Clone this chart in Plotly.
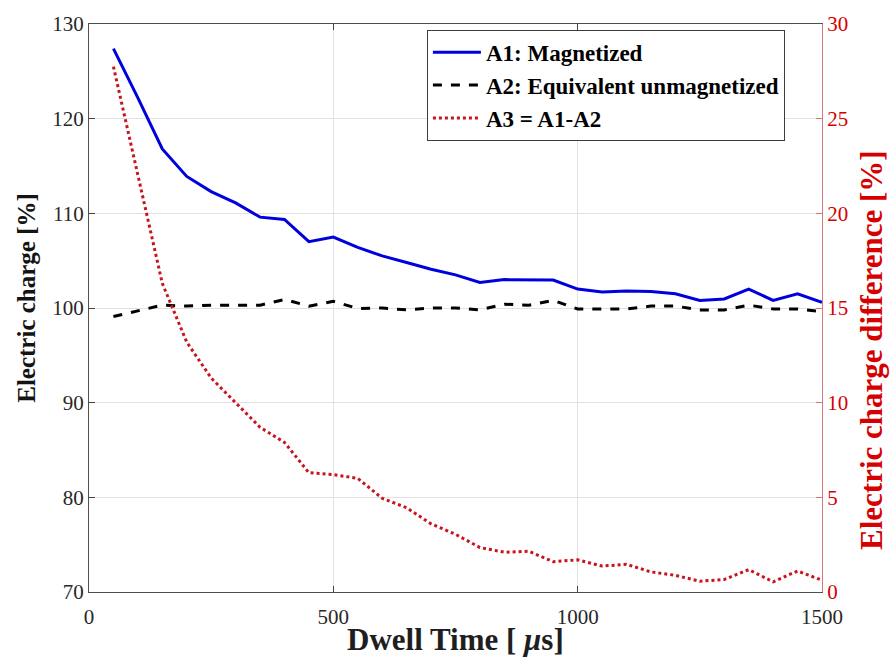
import plotly.graph_objects as go

dwell_time = [50, 100, 150, 200, 250, 300, 350, 400, 450, 500, 550, 600, 650, 700, 750,
              800, 850, 900, 950, 1000, 1050, 1100, 1150, 1200, 1250, 1300, 1350, 1400, 1450, 1500]
a1_magnetized = [127.4, 122.2, 116.8, 113.9, 112.3, 111.1, 109.6, 109.35, 107.0, 107.5, 106.4,
                 105.5, 104.8, 104.1, 103.5, 102.7, 103.0, 102.95, 102.95, 102.0, 101.7, 101.8,
                 101.75, 101.5, 100.8, 100.95, 102.0, 100.8, 101.5, 100.6]
a2_unmagnetized = [99.1, 99.7, 100.3, 100.2, 100.3, 100.3, 100.3, 100.9, 100.2, 100.7, 99.95,
                   100.0, 99.8, 100.0, 100.0, 99.8, 100.4, 100.3, 100.8, 99.9, 99.9, 99.9,
                   100.2, 100.2, 99.8, 99.8, 100.3, 99.9, 99.9, 99.6]
a3_difference = [27.75, 22.0, 16.3, 13.2, 11.3, 10.0, 8.7, 7.9, 6.3, 6.2, 6.0,
                 4.95, 4.45, 3.6, 3.05, 2.35, 2.1, 2.15, 1.6, 1.7, 1.37, 1.46,
                 1.06, 0.88, 0.57, 0.66, 1.18, 0.54, 1.11, 0.62]

x_ticks = [0, 500, 1000, 1500]
y_left_ticks = [70, 80, 90, 100, 110, 120, 130]
y_right_ticks = [0, 5, 10, 15, 20, 25, 30]

FONT = "Liberation Serif"
RED = "rgb(214,0,0)"
TICK_SIZE = 21

fig = go.Figure()
fig.add_trace(go.Scatter(x=dwell_time, y=a1_magnetized, mode="lines", name="A1: Magnetized",
                         line=dict(color="rgb(0,0,220)", width=3)))
fig.add_trace(go.Scatter(x=dwell_time, y=a2_unmagnetized, mode="lines",
                         name="A2: Equivalent unmagnetized",
                         line=dict(color="black", width=3, dash="dash")))
fig.add_trace(go.Scatter(x=dwell_time, y=a3_difference, mode="lines", name="A3 = A1-A2",
                         line=dict(color="rgb(200,20,30)", width=3, dash="dot"), yaxis="y2"))

fig.update_layout(
    width=892, height=666,
    margin=dict(l=89, r=70, t=15, b=74),
    paper_bgcolor="white", plot_bgcolor="white",
    font=dict(family=FONT, size=TICK_SIZE, color="rgb(40,40,40)"),
    xaxis=dict(range=[0, 1500], tickvals=x_ticks, ticks="inside", ticklen=6,
               showline=True, linecolor="rgb(80,80,80)", linewidth=1, mirror="ticks",
               showgrid=True, gridcolor="rgb(225,225,225)", zeroline=False,
               ticklabelstandoff=6,
               tickfont=dict(family=FONT, size=TICK_SIZE, color="rgb(40,40,40)")),
    yaxis=dict(range=[70, 130], tickvals=y_left_ticks, ticks="inside", ticklen=6,
               showline=True, linecolor="rgb(80,80,80)", linewidth=1,
               showgrid=True, gridcolor="rgb(225,225,225)", zeroline=False,
               tickfont=dict(family=FONT, size=TICK_SIZE, color="rgb(40,40,40)")),
    yaxis2=dict(range=[0, 30], tickvals=y_right_ticks, overlaying="y", side="right",
                ticks="inside", ticklen=6, tickcolor="rgb(210,120,120)",
                showline=True, linecolor="rgb(210,120,120)", linewidth=1,
                showgrid=False, zeroline=False,
                tickfont=dict(family=FONT, size=TICK_SIZE, color=RED)),
    legend=dict(x=0.461, y=0.99, xanchor="left", yanchor="top",
                bgcolor="white", bordercolor="rgb(60,60,60)", borderwidth=1,
                font=dict(family=FONT, size=23, color="black", weight="bold"),
                itemwidth=48, tracegroupgap=0),
    showlegend=True,
    annotations=[
        dict(text="<b>Dwell Time [ <i>μ</i>s]</b>", xref="paper", yref="paper",
             x=0.5, y=-0.0832, xanchor="center", yanchor="middle", showarrow=False,
             font=dict(family=FONT, size=31, color="rgb(30,30,30)")),
        dict(text="<b>Electric charge [%]</b>", xref="paper", yref="paper",
             x=-0.0846, y=0.518, xanchor="center", yanchor="middle", showarrow=False,
             textangle=-90, font=dict(family=FONT, size=25, color="rgb(20,20,20)")),
        dict(text="<b>Electric charge difference [%]</b>", xref="paper", yref="paper",
             x=1.0668, y=0.426, xanchor="center", yanchor="middle", showarrow=False,
             textangle=-90, font=dict(family=FONT, size=31, color=RED)),
    ],
)

fig.write_html("out.html")
